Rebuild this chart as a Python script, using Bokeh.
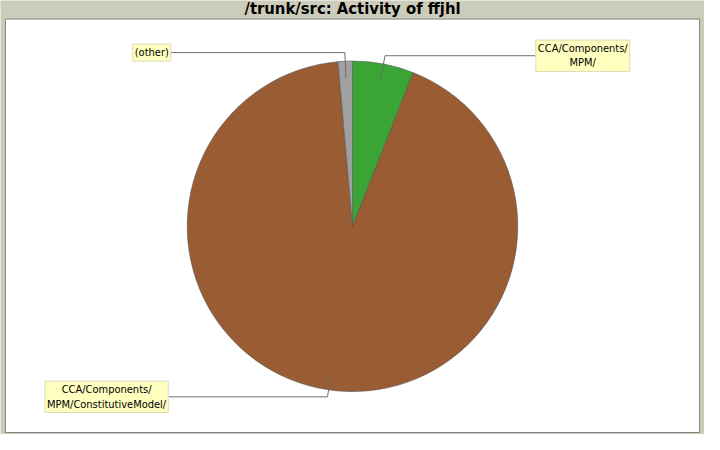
import math
from bokeh.plotting import figure
from bokeh.models import Range1d, ColumnDataSource
from bokeh.core.properties import value
from bokeh.embed import file_html
from bokeh.resources import INLINE

# ---- data ----
title_text = "/trunk/src: Activity of ffjhl"
labels = ["CCA/Components/\nMPM/", "CCA/Components/\nMPM/ConstitutiveModel/", "(other)"]
shares = [6.0, 92.6, 1.4]
colors = ["#3aa535", "#995c33", "#a0a0a0"]

# ---- layout (reference pixel frame, 720x450, y measured from bottom) ----
W, H = 704, 434
CX, CY, R = 360, 450 - 234, 169
label_cx = [595.5, 108.5, 154.7]
label_cy = [450 - 59.5, 450 - 408.5, 450 - 56.3]
label_edge = [547, 172, 172.7]

p = figure(width=W, height=H, x_range=Range1d(0, 720), y_range=Range1d(3, 447),
           output_backend="svg", toolbar_location=None, min_border=0,
           background_fill_color="#ccccbb", border_fill_color="#ccccbb",
           outline_line_color=None)
p.axis.visible = False
p.grid.visible = False

# plot area
p.quad(left=[5], right=[715], bottom=[450 - 445], top=[450 - 22],
       fill_color="white", line_color="#808080", line_width=1)

# title
p.text(x=[360], y=[450 - 11], text=[title_text], text_align="center",
       text_baseline="middle", text_font=value("DejaVu Sans Condensed"),
       text_font_style="bold", text_font_size="16.5px", text_color="black")

# wedges: start at 12 o'clock, clockwise
total = sum(shares)
starts, ends, mids = [], [], []
acc = 0.0
for s in shares:
    a0 = math.pi / 2 - 2 * math.pi * acc / total
    acc += s
    a1 = math.pi / 2 - 2 * math.pi * acc / total
    starts.append(a0)
    ends.append(a1)
    mids.append((a0 + a1) / 2)

src = ColumnDataSource(dict(start=starts, end=ends, color=colors))
p.wedge(x=CX, y=CY, radius=R, start_angle="start", end_angle="end",
        direction="clock", fill_color="color", line_color="#555555",
        line_width=0.6, source=src)

# leader lines
for m, ex, ly in zip(mids, label_edge, label_cy):
    ax, ay = CX + 0.9 * R * math.cos(m), CY + 0.9 * R * math.sin(m)
    bx, by = CX + 1.05 * R * math.cos(m), CY + 1.05 * R * math.sin(m)
    p.line(x=[ax, bx, ex], y=[ay, ly, ly], line_color="#6e6e6e", line_width=1)

# label boxes
p.text(x=label_cx, y=label_cy, text=labels, text_align="center",
       text_baseline="middle", text_font=value("DejaVu Sans Condensed"),
       text_font_size="11px", text_color="black", text_line_height=1.1,
       background_fill_color="#ffffc0", border_line_color="#dcdcb4",
       border_line_width=1, padding=2)

open("out.html", "w").write(file_html(p, INLINE))
